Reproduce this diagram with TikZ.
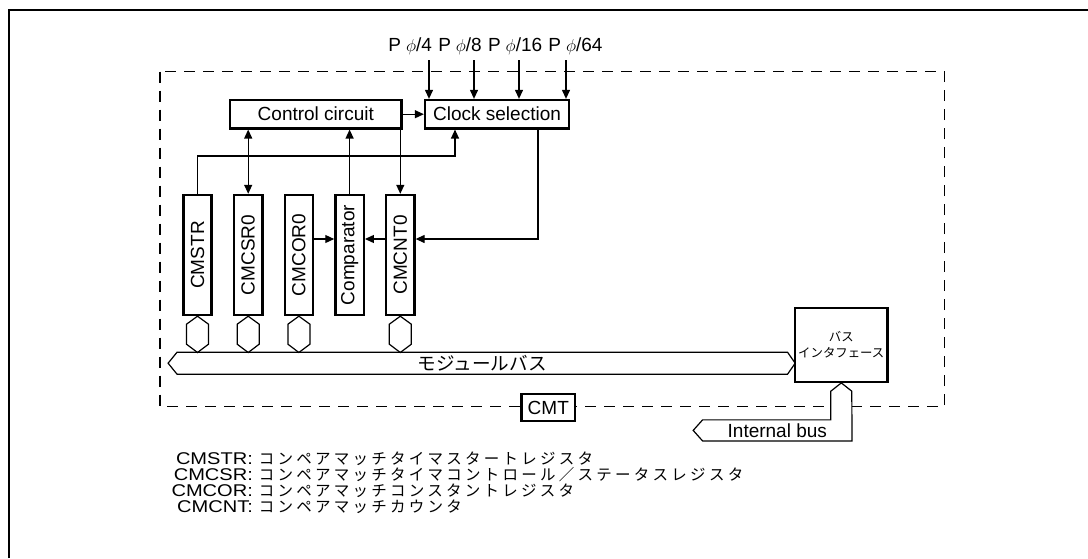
\documentclass[tikz,border=0pt]{standalone}
\usepackage{fontspec}
\setmainfont{Liberation Sans}
\newfontfamily\jp{Noto Sans CJK JP}
\newfontfamily\jpleg[LetterSpace=21]{Noto Sans CJK JP}
\newfontfamily\legfont[FakeStretch=1.18]{Liberation Sans}
\usetikzlibrary{arrows.meta,positioning,backgrounds}

\begin{document}
\begin{tikzpicture}[
    x=1pt, y=-1pt,
    font=\fontsize{19}{22}\selectfont,
    >={Triangle[length=9pt,width=8pt]},
    blk/.style={draw=black, line width=2.4pt, fill=white, rectangle, inner sep=0pt, minimum height=28.3pt, align=center},
    reg/.style={blk, minimum width=28.3pt, minimum height=120pt},
    conn/.style={line width=1.2pt},
    busline/.style={draw=black, line width=1.2pt, line join=miter}
]
\useasboundingbox (0,0) rectangle (1088,558);
\draw[line width=2pt] (8.7,558) -- (8.7,10) -- (1088,10);

\node[blk, minimum width=171.7pt] (ctrl_c) at (315.8,114.2) {Control circuit};
\node[blk, minimum width=144pt, right=21pt of ctrl_c] (clk_c) {Clock selection};
\node (pclk_l) at (495.5,46) {P\hspace{5pt}$\phi$/4\hspace{1pt} P\hspace{5pt}$\phi$/8\hspace{1pt} P\hspace{5pt}$\phi$/16\hspace{1pt} P\hspace{5pt}$\phi$/64};

\node[reg] (cmstr_r) at (197.5,255) {\rotatebox{90}{CMSTR}};
\node[reg, right=20pt of cmstr_r] (cmcsr_r) {\rotatebox{90}{CMCSR0}};
\node[reg, right=20pt of cmcsr_r] (cmcor_r) {\rotatebox{90}{CMCOR0}};
\node[reg, right=20pt of cmcor_r] (comp_r) {\rotatebox{90}{Comparator}};
\node[reg, right=20pt of comp_r] (cmcnt_r) {\rotatebox{90}{CMCNT0}};

\node[blk, minimum width=92.7pt, minimum height=74pt, font=\jp\fontsize{12.4}{16.3}\selectfont] (bus_if) at (841.3,344.7) {バス\\インタフェース};
\node[inner sep=0pt, minimum width=610pt, minimum height=21.7pt, font=\jp\fontsize{18.6}{22}\selectfont] (mod_bus) at (482.3,363.2) {モジュールバス};
\node[inner sep=0pt, minimum width=149pt, minimum height=20.7pt] (int_bus) at (777.3,430.4) {Internal bus};
\node[blk, minimum width=53.3pt, minimum height=27pt] (cmt_l) at (548.3,407.5) {CMT};

\draw[conn, ->] (ctrl_c) -- (clk_c);
\draw[conn, <->] (cmcsr_r.north) -- (cmcsr_r.north |- ctrl_c.south);
\draw[conn, ->] (comp_r.north) -- (comp_r.north |- ctrl_c.south);
\draw[conn, ->] (cmcnt_r.north |- ctrl_c.south) -- (cmcnt_r.north);
\coordinate (st_bend) at (455,156);
\draw[conn, ->] (cmstr_r.north) |- (st_bend) -- (st_bend |- clk_c.south);
\coordinate (cs_tap) at (538,128);
\draw[conn, ->] (clk_c.south -| cs_tap) |- ([yshift=16pt]cmcnt_r.east);
\draw[conn, ->] ([yshift=16pt]cmcor_r.east) -- ([yshift=16pt]comp_r.west);
\draw[conn, ->] ([yshift=16pt]cmcnt_r.west) -- ([yshift=16pt]comp_r.east);
\foreach \x [count=\i] in {429,474,519,566} {
  \coordinate (pin\i) at (\x,60);
  \draw[conn, ->] (pin\i) -- (pin\i |- clk_c.north);
}

\foreach \r in {cmstr_r,cmcsr_r,cmcor_r,cmcnt_r}
  \draw[busline] (\r.south) -- ++(11pt,-8pt) -- ++(0pt,-20pt) -- ++(-11pt,-8.3pt) -- ++(-11pt,8.3pt) -- ++(0pt,20pt) -- cycle;
\draw[busline] (mod_bus.north west) -- (mod_bus.north east) -- ([xshift=7.7pt]mod_bus.east) -- (mod_bus.south east) -- (mod_bus.south west) -- ([xshift=-9pt]mod_bus.west) -- cycle;

\begin{scope}[on background layer]
\draw[conn, dash pattern=on 11pt off 8pt] (160,71.7) rectangle (944.3,406.7);
\draw[busline, fill=white] (bus_if.south) -- ++(-10.5pt,-8.3pt) |- (int_bus.north west) -- ([xshift=-9.4pt]int_bus.west) -- (int_bus.south west) -- (int_bus.south east) -- ([xshift=10.5pt,yshift=-8.3pt]bus_if.south) -- cycle;
\end{scope}

\foreach \abbr/\desc [count=\i] in {CMSTR/コンペアマッチタイマスタートレジスタ, CMCSR/コンペアマッチタイマコントロール／ステータスレジスタ, CMCOR/コンペアマッチコンスタントレジスタ, CMCNT/コンペアマッチカウンタ}
  \node[anchor=base west, inner sep=0pt] (leg\i) at (160,448.3+16*\i) {\makebox[92.7pt][r]{\legfont\fontsize{17}{20}\selectfont\abbr:}\hspace{6pt}{\jpleg\fontsize{15.5}{20}\selectfont\desc}};

\end{tikzpicture}
\end{document}
